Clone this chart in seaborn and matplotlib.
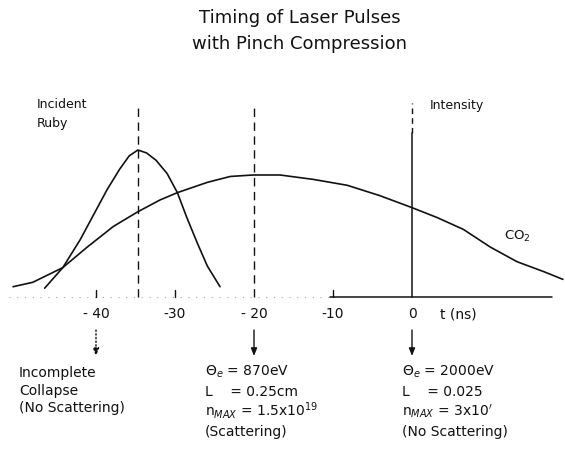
import matplotlib
matplotlib.use("Agg")
import matplotlib.pyplot as plt
import seaborn as sns
import pandas as pd

# ---- data (t in ns, intensity in arbitrary units, ruby peak = 1) ----
ruby_t = [-46.5, -44.2, -42.0, -40.4, -38.6, -37.0, -35.8, -34.7, -33.6, -32.4, -31.0, -29.7, -28.5, -27.2, -25.9, -24.3]
ruby_I = [0.06, 0.20, 0.39, 0.55, 0.73, 0.87, 0.96, 1.00, 0.98, 0.93, 0.84, 0.71, 0.54, 0.37, 0.21, 0.07]

co2_t = [-50.5, -48.0, -44.2, -41.1, -37.8, -34.7, -31.9, -29.7, -25.9, -23.0, -20.1, -16.7,
         -12.5, -8.2, -4.1, -0.1, 3.2, 6.5, 9.9, 13.3, 16.8, 19.1]
co2_I = [0.07, 0.10, 0.20, 0.34, 0.48, 0.58, 0.66, 0.71, 0.78, 0.82, 0.83, 0.83,
         0.80, 0.76, 0.69, 0.61, 0.54, 0.46, 0.34, 0.24, 0.17, 0.12]

tick_values = [-40, -30, -20, -10, 0]
tick_labels = ["- 40", "-30", "- 20", "-10", "0"]
dashed_times = [-34.7, -20.0]
pinch_time = 0.0
arrow_times = [-40, -20, 0]

title_lines = ["Timing of Laser Pulses", "with Pinch Compression"]
left_block = ["Incomplete", "Collapse", "(No Scattering)"]
mid_block = [r"$\Theta_e$ = 870eV", "L    = 0.25cm", r"n$_{MAX}$ = 1.5x10$^{19}$", "(Scattering)"]
right_block = [r"$\Theta_e$ = 2000eV", "L    = 0.025", r"n$_{MAX}$ = 3x10$^{\prime}$", "(No Scattering)"]

# ---- figure ----
sns.set_style("white")
plt.rcParams["font.family"] = ["DejaVu Sans"]
W, H = 565, 451
fig = plt.figure(figsize=(W / 100, H / 100), dpi=100)
ax = fig.add_axes([0, 0, 1, 1])
ink = "#111111"

# pixel mapping of the original drawing: x = 412 + 7.9 t ; y = 297 - 147 I
ax.set_xlim(-412 / 7.9, (W - 412) / 7.9)
ax.set_ylim(-(H - 297) / 147, 297 / 147)
ax.axis("off")

def fx(px):
    return px / W

def fy(py):
    return 1 - py / H

ruby = pd.DataFrame({"t": ruby_t, "I": ruby_I})
co2 = pd.DataFrame({"t": co2_t, "I": co2_I})
sns.lineplot(data=ruby, x="t", y="I", ax=ax, color=ink, lw=1.2, sort=False)
sns.lineplot(data=co2, x="t", y="I", ax=ax, color=ink, lw=1.2, sort=False)

# time axis
ax.plot([-51.0, -10.4], [0, 0], color="0.65", lw=0.8, ls=(0, (1, 6)))
ax.plot([-10.4, 17.7], [0, 0], color=ink, lw=1.1)
for tv in [-40, -30, -10]:
    ax.plot([tv, tv], [0, 0.05], color=ink, lw=1.0)

# vertical markers
top = (297 - 103) / 147
for tv in dashed_times:
    ax.plot([tv, tv], [0, top], color=ink, lw=1.0, ls=(0, (6, 4)))
ax.plot([pinch_time, pinch_time], [(297 - 133) / 147, top], color=ink, lw=1.0, ls=(0, (4, 3)))
ax.plot([pinch_time, pinch_time], [0, (297 - 133) / 147], color=ink, lw=1.1)

# tick labels
for tv, lab in zip(tick_values, tick_labels):
    ax.text(tv, -(314 - 297) / 147, lab, ha="center", va="center", fontsize=10, color=ink)
fig.text(fx(440), fy(314), "t (ns)", ha="left", va="center", fontsize=10, color=ink)

# arrows
for i, tv in enumerate(arrow_times):
    ax.annotate("", xy=(tv, -(356 - 297) / 147), xytext=(tv, -(330 - 297) / 147),
                arrowprops=dict(arrowstyle="-|>,head_length=0.45,head_width=0.18",
                                color=ink, lw=1.0, ls=":" if i == 0 else "-",
                                shrinkA=0, shrinkB=0))

# titles and labels
fig.text(fx(300), fy(18), title_lines[0], ha="center", va="center", fontsize=13, color=ink)
fig.text(fx(299), fy(44), title_lines[1], ha="center", va="center", fontsize=13, color=ink)
fig.text(fx(37), fy(105), "Incident", ha="left", va="center", fontsize=9, color=ink)
fig.text(fx(37), fy(123), "Ruby", ha="left", va="center", fontsize=9, color=ink)
fig.text(fx(430), fy(105), "Intensity", ha="left", va="center", fontsize=9, color=ink)
fig.text(fx(504), fy(236), "CO$_2$", ha="left", va="center", fontsize=9.5, color=ink)

for k, line in enumerate(left_block):
    fig.text(fx(19), fy([373, 391, 408][k]), line, ha="left", va="center", fontsize=10, color=ink)
ys = [372, 392, 411, 432]
for k, line in enumerate(mid_block):
    fig.text(fx(205), fy(ys[k]), line, ha="left", va="center", fontsize=10, color=ink)
for k, line in enumerate(right_block):
    fig.text(fx(402), fy(ys[k]), line, ha="left", va="center", fontsize=10, color=ink)

fig.savefig("out.png", dpi=100, facecolor="white")
